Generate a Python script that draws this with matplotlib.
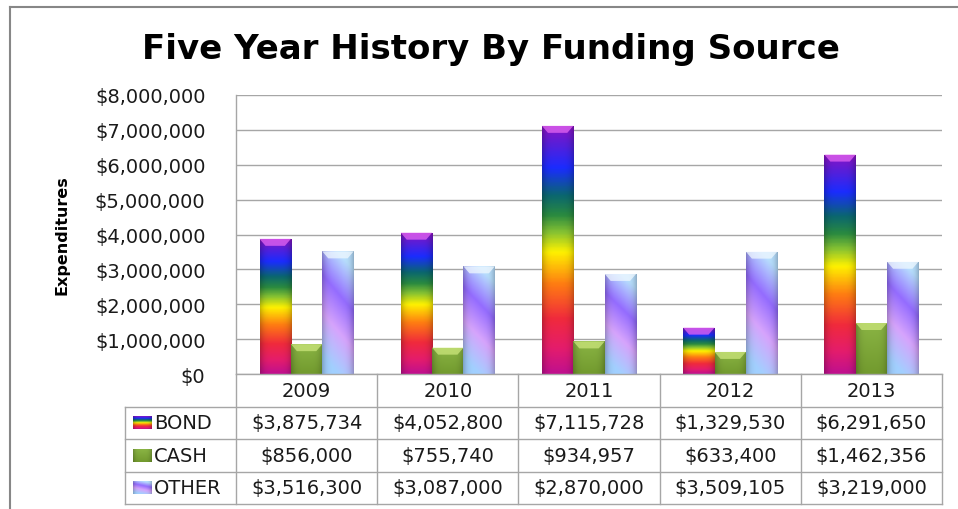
import numpy as np
import matplotlib
matplotlib.use('Agg')
import matplotlib.pyplot as plt
from matplotlib.colors import LinearSegmentedColormap
from matplotlib.patches import Polygon
from matplotlib.lines import Line2D

years = ['2009', '2010', '2011', '2012', '2013']
series = ['BOND', 'CASH', 'OTHER']
bond = [3875734, 4052800, 7115728, 1329530, 6291650]
cash = [856000, 755740, 934957, 633400, 1462356]
other = [3516300, 3087000, 2870000, 3509105, 3219000]
yticks = [0, 1000000, 2000000, 3000000, 4000000, 5000000, 6000000, 7000000, 8000000]

W, H = 958, 510
gridc = '#a6a6a6'
txtc = '#1a1a1a'
fs = 14

# fill colour ramps, bottom -> top
rainbow = LinearSegmentedColormap.from_list('rb', [
  (0.00, '#c0108e'), (0.10, '#e41c6c'), (0.22, '#f02a3c'), (0.36, '#ff7c12'),
  (0.49, '#fff200'), (0.57, '#86c232'), (0.64, '#2a8a40'), (0.72, '#0a6670'),
  (0.83, '#1a2cff'), (0.93, '#5a1ed8'), (1.00, '#8a12c4')])
green = LinearSegmentedColormap.from_list('gr', ['#729a2e', '#8ab444'])
violet = LinearSegmentedColormap.from_list('vi', [
  (0.00, '#a2d0ff'), (0.35, '#d6a4fc'), (0.66, '#946cff'), (1.00, '#b8e0ff')])
bevel = ['#e266f2', '#cce67c', '#f0f8ff']

def fill_image(cmap, slant=0.0, n=200, m=40):
  v = np.linspace(0, 1, n)[:, None]
  u = np.linspace(0, 1, m)[None, :]
  t = np.clip(v + slant*(u - 0.5), 0, 1)
  rgb = cmap(t)[..., :3]
  # darker towards the side edges
  shade = 1 - 0.22*np.abs(2*u - 1)**4
  return np.clip(rgb*shade[..., None], 0, 1)

images = [fill_image(rainbow), fill_image(green), fill_image(violet, slant=0.3)]

fig = plt.figure(figsize=(W/100, H/100), dpi=100)
ax = fig.add_axes([236/W, 1 - 375/H, 706/W, 279/H])

x = np.arange(len(years))
bw = 1/4.5
for k, vals in enumerate([bond, cash, other]):
  bars = ax.bar(x + (k - 1)*bw, vals, width=bw, facecolor='none', edgecolor='none', zorder=2)
  for b in bars:
    x0, h, w = b.get_x(), b.get_height(), b.get_width()
    im = ax.imshow(images[k], extent=[x0, x0 + w, 0, h], origin='lower',
                   aspect='auto', zorder=2, interpolation='bilinear')
    im.set_clip_path(b)
    # bevelled cap on each bar
    bh = 7*8e6/279
    ins = 6/141.2
    ax.add_patch(Polygon([(x0, h), (x0 + w, h), (x0 + w - ins, h - bh), (x0 + ins, h - bh)],
                         closed=True, facecolor=bevel[k], edgecolor='none', alpha=0.75, zorder=3))

ax.set_xlim(-0.5, 4.5)
ax.set_ylim(0, 8e6)
ax.set_yticks(yticks)
ax.set_yticklabels([f'${v:,.0f}' for v in yticks])
ax.set_xticks([])
ax.tick_params(axis='y', length=0, pad=22, labelsize=fs, labelcolor=txtc)
ax.yaxis.grid(True, color=gridc, lw=1.0)
ax.set_axisbelow(True)
for s in ['top', 'right']:
  ax.spines[s].set_visible(False)
for s in ['left', 'bottom']:
  ax.spines[s].set_color(gridc)
  ax.spines[s].set_linewidth(1.0)

# data table under the plot
lw = 111/141.2
tax = fig.add_axes([125/W, 1 - 505/H, 817/W, 130/H])
tax.axis('off')
for r in range(1, 5):
  tax.plot([-0.5 - lw, 4.5], [r, r], color=gridc, lw=1.0, clip_on=False)
tax.plot([-0.5 - lw, -0.5 - lw], [1, 4], color=gridc, lw=1.0, clip_on=False)
for c in range(6):
  tax.plot([c - 0.5, c - 0.5], [0, 4], color=gridc, lw=1.0, clip_on=False)

for i, yr in enumerate(years):
  tax.text(i, 0.5, yr, ha='center', va='center', fontsize=fs, color=txtc)
for r, (name, vals) in enumerate(zip(series, [bond, cash, other])):
  for i, v in enumerate(vals):
    tax.text(i, r + 1.5, f'${v:,.0f}', ha='center', va='center', fontsize=fs, color=txtc)
  sx = -0.5 - lw + 8/141.2
  tax.imshow(images[r], extent=[sx, sx + 19/141.2, r + 1.7, r + 1.3], origin='lower',
             aspect='auto', interpolation='bilinear')
  tax.text(-0.5 - lw + 29/141.2, r + 1.5, name, ha='left', va='center', fontsize=fs, color=txtc)
tax.set_xlim(-0.5 - lw, 4.5)
tax.set_ylim(4, 0)

fig.text(491/W, 1 - 49/H, 'Five Year History By Funding Source', ha='center', va='center',
         fontsize=24.5, fontweight='bold', color='black')
fig.text(62/W, 1 - 235/H, 'Expenditures', rotation=90, ha='center', va='center',
         fontsize=11.5, fontweight='bold', color='black')

# chart frame
fig.add_artist(Line2D([10/W, 10/W], [0, 1 - 8/H], color='#878787', lw=1.5))
fig.add_artist(Line2D([10/W, 1], [1 - 8/H, 1 - 8/H], color='#878787', lw=1.5))

fig.savefig('out.png', dpi=100)
